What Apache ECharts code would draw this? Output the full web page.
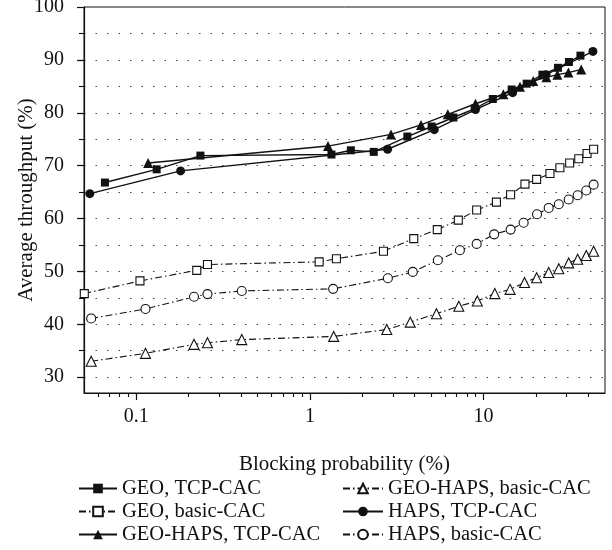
<!DOCTYPE html>
<html>
<head>
<meta charset="utf-8">
<script src="https://cdn.jsdelivr.net/npm/echarts@6/dist/echarts.min.js"></script>
<style>
html,body{margin:0;padding:0;background:#fff;}
#chart{width:612px;height:550px;}
</style>
</head>
<body>
<div id="chart"></div>
<script>
// blocking probability (%) / average throughput (%)
var geoTcpX = [0.066, 0.131, 0.234, 1.33, 1.72, 2.33, 3.64, 5.02, 6.7, 8.9, 11.3, 14.5, 17.7, 21.8, 26.8, 31, 36.1];
var geoTcpY = [66.8, 69.3, 71.9, 72.1, 72.9, 72.6, 75.5, 77.4, 79.1, 80.8, 82.6, 84.4, 85.5, 87.2, 88.5, 89.6, 90.8];

var geoBasicX = [0.0502, 0.105, 0.223, 0.257, 1.13, 1.42, 2.65, 3.96, 5.41, 7.15, 9.12, 11.85, 14.3, 17.3, 20.2, 24.1, 27.5, 31.3, 35.3, 39.4, 43.0];
var geoBasicY = [45.8, 48.2, 50.2, 51.3, 51.8, 52.4, 53.8, 56.2, 57.9, 59.7, 61.6, 63.1, 64.5, 66.5, 67.4, 68.5, 69.6, 70.5, 71.3, 72.3, 73.1];

var ghTcpX = [0.117, 1.27, 2.93, 4.36, 6.22, 8.98, 13.0, 16.2, 19.3, 23.0, 26.6, 30.8, 36.5];
var ghTcpY = [70.5, 73.7, 75.9, 77.7, 79.7, 81.7, 83.5, 84.9, 86.0, 86.7, 87.2, 87.6, 88.2];

var ghBasicX = [0.055, 0.113, 0.215, 0.257, 0.405, 1.37, 2.77, 3.78, 5.35, 7.2, 9.2, 11.6, 14.2, 17.2, 20.2, 23.7, 27.1, 30.9, 34.8, 39.0, 43.0];
var ghBasicY = [33.0, 34.5, 36.2, 36.5, 37.1, 37.7, 39.0, 40.4, 42.0, 43.4, 44.4, 45.8, 46.6, 47.9, 48.8, 49.8, 50.5, 51.6, 52.3, 53.0, 53.8];

var hapsTcpX = [0.054, 0.18, 2.8, 5.2, 8.98, 14.7, 22.9, 42.6];
var hapsTcpY = [64.7, 69.0, 73.1, 76.8, 80.6, 83.8, 87.2, 91.6];

var hapsBasicX = [0.055, 0.113, 0.215, 0.257, 0.405, 1.36, 2.81, 3.91, 5.45, 7.3, 9.12, 11.5, 14.3, 17.0, 20.3, 23.7, 27.1, 30.9, 34.8, 39.0, 43.0];
var hapsBasicY = [41.1, 42.9, 45.2, 45.7, 46.3, 46.7, 48.7, 49.9, 52.1, 54.0, 55.2, 57.0, 57.9, 59.2, 60.8, 62.0, 62.7, 63.6, 64.4, 65.3, 66.4];

var majorX = [0.1, 1, 10];
var minorX = [0.06, 0.07, 0.08, 0.09, 0.2, 0.3, 0.4, 0.5, 0.6, 0.7, 0.8, 0.9, 2, 3, 4, 5, 6, 7, 8, 9, 20, 30, 40];
var majorY = [30, 40, 50, 60, 70, 80, 90, 100];
var minorY = [30, 35, 40, 45, 50, 55, 60, 65, 70, 75, 80, 85, 90, 95];

var font = "'Liberation Serif', 'DejaVu Serif', serif";
var ink = '#111';

function mkSeries(name, xs, ys, symbol, filled) {
    var size = symbol === 'triangle' ? 10 : (symbol === 'circle' ? 9 : 8);
    return {
        name: name,
        type: 'line',
        data: xs.map(function (x, i) { return [x, ys[i]]; }),
        symbol: symbol,
        symbolSize: size,
        showAllSymbol: true,
        clip: false,
        itemStyle: {color: filled ? ink : '#fff', borderColor: ink, borderWidth: filled ? 0 : 1.1},
        lineStyle: {color: ink, width: filled ? 1.4 : 1.1, type: filled ? 'solid' : [7, 3, 1.5, 3]},
        emphasis: {disabled: true},
        z: filled ? 3 : 2
    };
}

var legendText = {fontFamily: font, fontSize: 20.5, lineHeight: 20, color: ink};

var chart = echarts.init(document.getElementById('chart'));
chart.setOption({
    animation: false,
    textStyle: {fontFamily: font, color: ink},
    grid: {left: 84, right: 7, top: 7, bottom: 157, outerBoundsMode: 'none', containLabel: false,
        show: true, borderColor: ink, borderWidth: 1, backgroundColor: 'transparent'},
    legend: [{
        data: ['GEO, TCP-CAC', 'GEO, basic-CAC', 'GEO-HAPS, TCP-CAC'],
        orient: 'vertical', left: 78, top: 478, height: 70, padding: 0,
        itemWidth: 38, itemHeight: 12, itemGap: 2,
        textStyle: legendText
    }, {
        data: ['GEO-HAPS, basic-CAC', 'HAPS, TCP-CAC', 'HAPS, basic-CAC'],
        orient: 'vertical', left: 342, top: 478, height: 70, padding: 0,
        itemWidth: 40, itemHeight: 12, itemGap: 2,
        textStyle: legendText
    }],
    xAxis: [{
        type: 'log', min: 0.05, max: 50, logBase: 10,
        name: 'Blocking probability (%)', nameLocation: 'middle', nameGap: 61, nameMoveOverlap: false,
        nameTextStyle: {fontFamily: font, fontSize: 21, color: ink},
        axisLine: {lineStyle: {color: ink, width: 1.2}},
        axisTick: {show: true, customValues: majorX, length: 7, lineStyle: {color: ink, width: 1.2}},
        axisLabel: {customValues: majorX, margin: 14, fontFamily: font, fontSize: 20, color: ink},
        splitLine: {show: false}, minorTick: {show: false}
    }, {
        type: 'log', min: 0.05, max: 50, logBase: 10, position: 'bottom', offset: 0,
        axisLine: {show: false},
        axisTick: {show: true, customValues: minorX, length: 4, lineStyle: {color: ink, width: 1.1}},
        axisLabel: {show: false},
        splitLine: {show: false}
    }],
    yAxis: [{
        type: 'value', min: 27, max: 100,
        name: 'Average throughput (%)', nameLocation: 'middle', nameGap: 47, nameMoveOverlap: false,
        nameTextStyle: {fontFamily: font, fontSize: 21, color: ink},
        axisLine: {show: true, lineStyle: {color: ink, width: 1.2}},
        axisTick: {show: true, customValues: majorY, length: 7, lineStyle: {color: ink, width: 1.2}},
        axisLabel: {customValues: majorY, margin: 20, fontFamily: font, fontSize: 20, color: ink},
        splitLine: {show: false}
    }, {
        type: 'value', min: 27, max: 100, position: 'left', offset: 0,
        axisLine: {show: false},
        axisTick: {show: true, customValues: minorY, length: 5, lineStyle: {color: ink, width: 1.1}},
        axisLabel: {show: false},
        splitLine: {show: true, lineStyle: {color: '#444', width: 1, type: [1.5, 10]}}
    }],
    series: [
        mkSeries('GEO, basic-CAC', geoBasicX, geoBasicY, 'rect', false),
        mkSeries('GEO-HAPS, basic-CAC', ghBasicX, ghBasicY, 'triangle', false),
        mkSeries('HAPS, basic-CAC', hapsBasicX, hapsBasicY, 'circle', false),
        mkSeries('HAPS, TCP-CAC', hapsTcpX, hapsTcpY, 'circle', true),
        mkSeries('GEO-HAPS, TCP-CAC', ghTcpX, ghTcpY, 'triangle', true),
        mkSeries('GEO, TCP-CAC', geoTcpX, geoTcpY, 'rect', true)
    ]
});
</script>
</body>
</html>
